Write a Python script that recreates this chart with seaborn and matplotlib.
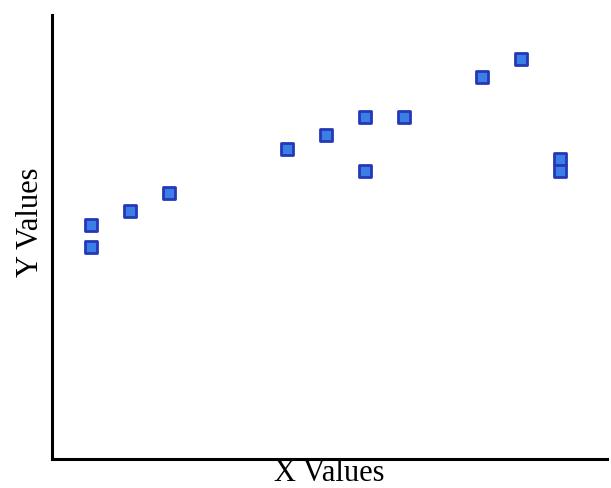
import matplotlib.pyplot as plt
import seaborn as sns
import pandas as pd

# значения точек
x_vals = [1, 1, 2, 3, 6, 7, 8, 8, 9, 11, 12, 13, 13]
y_vals = [11.7, 10.6, 12.4, 13.3, 15.5, 16.2, 17.1, 14.4, 17.1, 19.1, 20.0, 15.0, 14.4]

df = pd.DataFrame({'x': x_vals, 'y': y_vals})

sns.set_style('white')
plt.rcParams['font.family'] = ['Liberation Serif', 'DejaVu Serif']

fig = plt.figure(figsize=(6.11, 4.89), dpi=100)
ax = fig.add_axes([52 / 611, 29 / 489, 555 / 611, 444 / 489])

sns.scatterplot(data=df, x='x', y='y', ax=ax, marker='s', s=65,
                color='#3b7fe6', edgecolor='#2538b8', linewidth=2)

ax.set_xlim(0, 14.2)
ax.set_ylim(0, 22.2)
ax.set_xticks([])
ax.set_yticks([])

ax.set_xlabel('X Values', fontsize=22, color='black')
ax.xaxis.label.set_va('baseline')
ax.xaxis.set_label_coords(0.5, -0.0475)

ax.set_ylabel('Y Values', fontsize=22, color='black')
ax.yaxis.label.set_va('baseline')
ax.yaxis.set_label_coords(-0.025, 0.536)

for side in ['top', 'right']:
    ax.spines[side].set_visible(False)
for side in ['left', 'bottom']:
    ax.spines[side].set_color('black')
    ax.spines[side].set_linewidth(2.2)

plt.savefig('out.png', dpi=100)
